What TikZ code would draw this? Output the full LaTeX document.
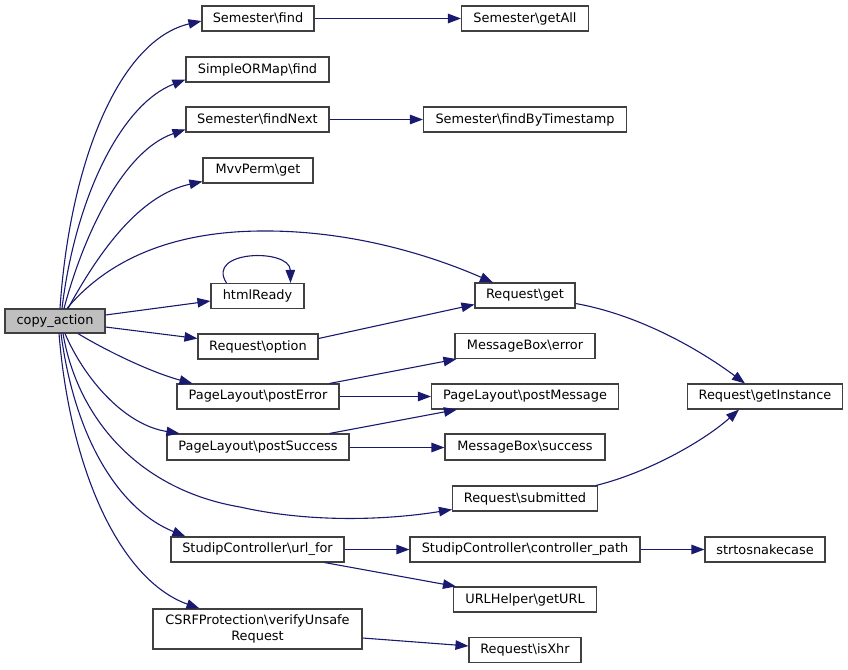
\documentclass[tikz,border=0pt]{standalone}
\usepackage{fontspec}
\setmainfont{DejaVu Sans}
\usetikzlibrary{arrows.meta,calc}
\definecolor{edgec}{HTML}{191970}
\definecolor{boxc}{HTML}{404040}
\definecolor{hlc}{HTML}{BFBFBF}
\tikzset{
  fn/.style={draw=boxc, line width=1.1pt, fill=white, inner sep=0pt, minimum height=25pt, align=center,
    font=\fontsize{12.9}{15.3}\selectfont},
  hl/.style={fn, fill=hlc},
  e/.style={draw=edgec, line width=1.1pt, -{Triangle[length=13pt,width=9.5pt]}},
}
\newcommand{\bs}{\textbackslash}
\begin{document}
\begin{tikzpicture}[x=1pt,y=-1pt]
\useasboundingbox (0,0) rectangle (848,669);
% nodes
\node[hl, minimum width=100pt, minimum height=24pt] (ca) at (55,321) {copy\_action};
\node[fn, minimum width=112pt] (sfind) at (258,18.5) {Semester\bs find};
\node[fn, minimum width=143pt] (sorm) at (257.5,69.5) {SimpleORMap\bs find};
\node[fn, minimum width=143pt] (snext) at (257.5,119.5) {Semester\bs findNext};
\node[fn, minimum width=110pt] (mvv) at (258,170.5) {MvvPerm\bs get};
\node[fn, minimum width=93pt] (html) at (257.5,296) {htmlReady};
\node[fn, minimum width=120pt] (opt) at (258,346.5) {Request\bs option};
\node[fn, minimum width=162pt] (perr) at (258,396.5) {PageLayout\bs postError};
\node[fn, minimum width=182pt, minimum height=26pt] (psucc) at (258,447) {PageLayout\bs postSuccess};
\node[fn, minimum width=173pt] (urlfor) at (257.5,549.5) {StudipController\bs url\_for};
\node[fn, minimum width=209pt, minimum height=40pt] (csrf) at (257.5,629) {CSRFProtection\bs verifyUnsafe\\Request};
\node[fn, minimum width=127pt] (getall) at (525,18.5) {Semester\bs getAll};
\node[fn, minimum width=203pt] (fbt) at (525,119.5) {Semester\bs findByTimestamp};
\node[fn, minimum width=100pt] (rget) at (525,295.5) {Request\bs get};
\node[fn, minimum width=140pt] (merr) at (525,346) {MessageBox\bs error};
\node[fn, minimum width=187pt] (pmsg) at (525,396.5) {PageLayout\bs postMessage};
\node[fn, minimum width=155pt] (ginst) at (765,396.5) {Request\bs getInstance};
\node[fn, minimum width=160pt, minimum height=26pt] (msucc) at (525,447) {MessageBox\bs success};
\node[fn, minimum width=145pt] (subm) at (525,498.5) {Request\bs submitted};
\node[fn, minimum width=230pt] (cpath) at (525,549.5) {StudipController\bs controller\_path};
\node[fn, minimum width=120pt] (snake) at (765,549.5) {strtosnakecase};
\node[fn, minimum width=143pt] (gurl) at (525,599.5) {URLHelper\bs getURL};
\node[fn, minimum width=112pt] (isxhr) at (525,650) {Request\bs isXhr};
% edges from copy_action (upwards)
\draw[e] ([xshift=5pt]ca.north) .. controls (70,160) and (120,40) .. ([yshift=-2.5pt]sfind.west);
\draw[e] ([xshift=7pt]ca.north) .. controls (75,200) and (120,105) .. ([yshift=-10pt]sorm.west);
\draw[e] ([xshift=9pt]ca.north) .. controls (85,230) and (125,150) .. ([yshift=-10pt]snext.west);
\draw[e] ([xshift=13pt]ca.north) .. controls (100,250) and (140,195) .. ([yshift=-11pt]mvv.west);
\draw[e] ([xshift=12pt]ca.north) .. controls (95,275) and (150,232) .. (260,231)
  .. controls (350,230) and (430,255) .. ([xshift=-32pt]rget.north);
\draw[e] ([yshift=6pt]ca.east) -- ([yshift=-5pt]html.west);
\draw[e] ([xshift=-31pt]html.north) .. controls (205,250) and (290,248) .. ([xshift=33pt]html.north);
\draw[e] ([yshift=-6pt]ca.east) -- ([yshift=8pt]opt.west);
% edges from copy_action (downwards)
\draw[e] ([xshift=23pt]ca.south) .. controls (105,350) and (150,372) .. ([xshift=16pt]perr.north west);
\draw[e] ([xshift=10pt]ca.south) .. controls (85,380) and (125,425) .. ([xshift=13pt]psucc.north west);
\draw[e] ([xshift=8pt]ca.south) .. controls (78,420) and (140,490) .. (240,507)
  .. controls (320,525) and (400,518) .. ([yshift=-11pt]subm.west);
\draw[e] ([xshift=6pt]ca.south) .. controls (75,440) and (120,510) .. ([xshift=15pt]urlfor.north west);
\draw[e] ([xshift=4pt]ca.south) .. controls (70,470) and (120,580) .. ([xshift=47pt]csrf.north west);
% other edges
\draw[e] (sfind.east) -- (getall.west);
\draw[e] (snext.east) -- (fbt.west);
\draw[e] ([yshift=8pt]opt.east) -- ([yshift=-9pt]rget.west);
\draw[e] ([yshift=-8pt]rget.east) .. controls (640,315) and (700,350) .. ([xshift=-20pt]ginst.north);
\draw[e] ([xshift=-2pt]subm.north east) .. controls (650,472) and (705,440) .. ([xshift=-26pt]ginst.south);
\draw[e] ([xshift=-10pt]perr.north east) -- ([xshift=2pt]merr.south west);
\draw[e] (perr.east) -- (pmsg.west);
\draw[e] ([xshift=-20pt]psucc.north east) -- ([xshift=26pt]pmsg.south west);
\draw[e] ([yshift=-0.5pt]psucc.east) -- ([yshift=-0.5pt]msucc.west);
\draw[e] (urlfor.east) -- (cpath.west);
\draw[e] ([xshift=-20pt]urlfor.south east) -- ([xshift=3pt]gurl.north west);
\draw[e] (cpath.east) -- (snake.west);
\draw[e] ([yshift=-9pt]csrf.east) -- ([yshift=4pt]isxhr.west);
\end{tikzpicture}
\end{document}
